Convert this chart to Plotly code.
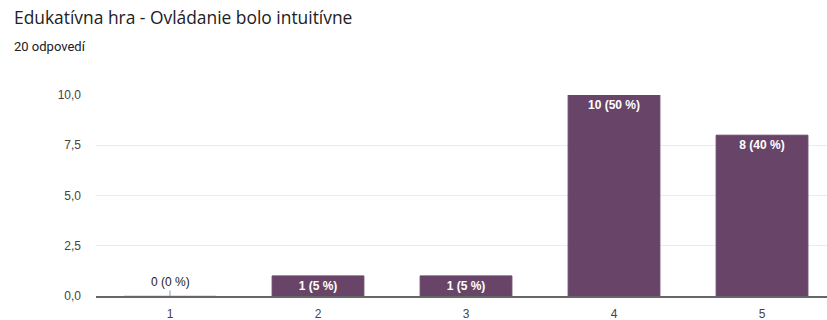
import plotly.graph_objects as go

categories = [1, 2, 3, 4, 5]
counts = [0, 1, 1, 10, 8]
total = 20
title = "Edukatívna hra - Ovládanie bolo intuitívne"
subtitle = "20 odpovedí"
y_ticks = [0, 2.5, 5, 7.5, 10]

labels = [f"{c} ({round(c * 100 / total)} %)" for c in counts]
bar_color = "#684568"
tick_font = dict(family="Liberation Sans, Arial, sans-serif", size=12, color="#444444")

fig = go.Figure()
fig.add_trace(go.Bar(
    x=categories,
    y=counts,
    width=0.62,
    marker=dict(color=bar_color,
                line=dict(color=[("#d8d8d8" if c == 0 else bar_color) for c in counts], width=1)),
    text=[(f"<b>{l}</b>" if c > 0 else "") for l, c in zip(labels, counts)],
    textposition="inside",
    insidetextanchor="end",
    textfont=dict(family="Liberation Sans, Arial, sans-serif", size=12, color="white"),
    hoverinfo="skip",
))

fig.update_layout(
    width=827, height=320,
    margin=dict(l=96, r=0, t=95, b=24),
    plot_bgcolor="white", paper_bgcolor="white",
    separators=", ",
    showlegend=False,
    uniformtext=dict(minsize=12, mode="show"),
)

for x, c, l in zip(categories, counts, labels):
    if c == 0:
        fig.add_annotation(x=x, y=c, text=l, showarrow=True, arrowhead=0,
                           arrowwidth=1, arrowcolor="#999999", ax=0, ay=-14,
                           font=dict(family="Liberation Sans, Arial, sans-serif", size=12, color="#222222"))

fig.add_annotation(xref="paper", yref="paper", x=-84 / 731, y=1 + 78 / 201, xanchor="left",
                   yanchor="middle", text=title, showarrow=False,
                   font=dict(family="Open Sans, sans-serif", size=17.4, color="#202124"))
fig.add_annotation(xref="paper", yref="paper", x=-84 / 731, y=1 + 49 / 201, xanchor="left",
                   yanchor="middle", text=subtitle, showarrow=False,
                   font=dict(family="Roboto, sans-serif", size=13, color="#202124"))

fig.update_xaxes(
    range=[0.5, 5.439],
    tickvals=categories,
    ticktext=[str(c) for c in categories],
    showgrid=False,
    showline=True, linecolor="#666666", linewidth=1.5,
    ticks="", ticklabelstandoff=6,
    tickfont=tick_font,
    fixedrange=True,
)
fig.update_yaxes(
    range=[0, 10],
    tickvals=y_ticks,
    tickformat=".1f",
    showgrid=True, gridcolor="#ebebeb", gridwidth=1,
    zeroline=False,
    ticks="", ticklabelstandoff=14,
    tickfont=tick_font,
    fixedrange=True,
)

fig.write_html("out.html")
